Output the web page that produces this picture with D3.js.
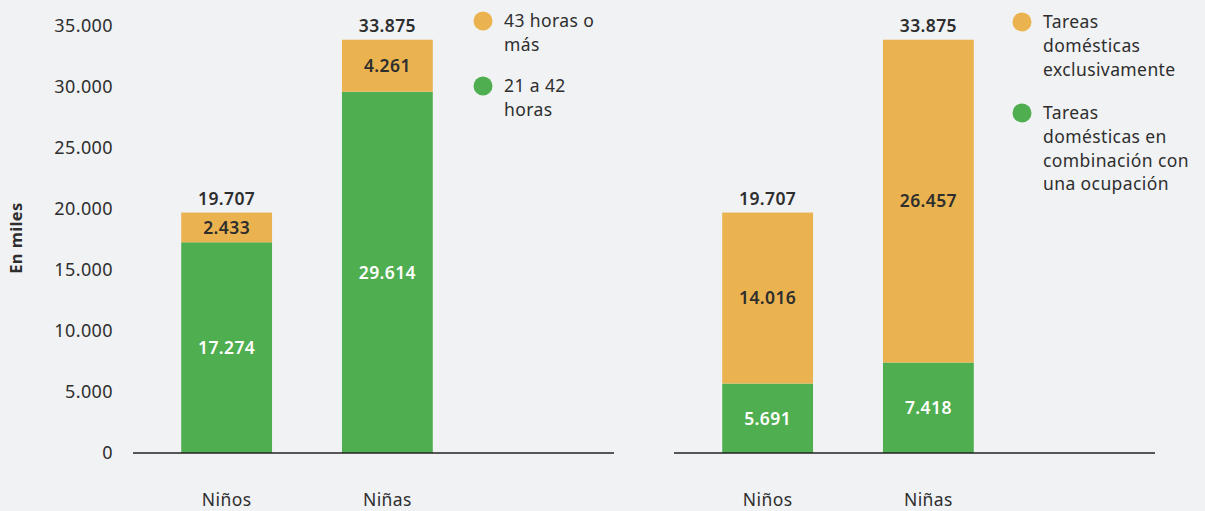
<!DOCTYPE html>
<html>
<head>
<meta charset="utf-8">
<script src="https://cdn.jsdelivr.net/npm/d3@7"></script>
<style>
  body { margin: 0; background: #f1f2f4; }
  svg { display: block; font-family: "Noto Sans", sans-serif; letter-spacing: 0.4px; }
</style>
</head>
<body>
<div id="chart"></div>
<script>
// data, in thousands
let categories = ["Niños", "Niñas"];

let hoursLabels = [["21 a 42", "horas"], ["43 horas o", "más"]];
let hours21to42 = [17274, 29614];
let hours43plus = [2433, 4261];

let choresLabels = [["Tareas", "domésticas en", "combinación con", "una ocupación"], ["Tareas", "domésticas", "exclusivamente"]];
let choresCombined = [5691, 7418];
let choresOnly = [14016, 26457];

let totals = [19707, 33875];
let yTicks = [0, 5000, 10000, 15000, 20000, 25000, 30000, 35000];

let width = 1205,
    height = 511;

let green = "#4fae4f",
    orange = "#ebb350",
    textDark = "#2e2e2e";

let fmt = function(v) { return d3.format(",")(v).replace(/,/g, "."); };

let svg = d3.select("#chart")
    .append("svg")
    .attr("width", width)
    .attr("height", height);

svg.append("rect").attr("width", width).attr("height", height).attr("fill", "#f1f2f4");

let y = d3.scaleLinear()
    .domain([0, 35000])
    .range([453, 26]);

// y axis only on the left panel
let yAxis = svg.append("g")
    .attr("transform", "translate(113,0)")
    .call(d3.axisLeft(y).tickValues(yTicks).tickSize(0).tickPadding(0).tickFormat(fmt));
yAxis.select(".domain").remove();
yAxis.selectAll("text")
    .attr("font-family", "Noto Sans, sans-serif")
    .attr("font-size", 18)
    .attr("fill", textDark);

svg.append("text")
    .attr("transform", "translate(22,238) rotate(-90)")
    .attr("text-anchor", "middle")
    .attr("font-size", 16.5)
    .attr("font-weight", 700)
    .attr("fill", textDark)
    .text("En miles");

function drawPanel(offset, lower, upper, legendLabels, legendX, legendYs) {
    let g = svg.append("g").attr("transform", `translate(${offset},0)`);

    let x = d3.scaleBand()
        .domain(categories)
        .range([133, 481])
        .paddingInner(0.435)
        .paddingOuter(0.3);

    let rows = categories.map(function(c, i) {
        return { cat: c, lower: lower[i], upper: upper[i], total: totals[i] };
    });

    let stack = d3.stack().keys(["lower", "upper"])(rows);
    let colors = [green, orange];

    stack.forEach(function(layer, li) {
        g.append("g").selectAll("rect")
            .data(layer)
            .enter()
            .append("rect")
            .attr("x", function(d) { return x(d.data.cat); })
            .attr("y", function(d) { return y(d[1]); })
            .attr("width", x.bandwidth())
            .attr("height", function(d) { return y(d[0]) - y(d[1]); })
            .attr("fill", colors[li]);

        g.append("g").selectAll("text")
            .data(layer)
            .enter()
            .append("text")
            .attr("x", function(d) { return x(d.data.cat) + x.bandwidth() / 2; })
            .attr("y", function(d) { return (y(d[0]) + y(d[1])) / 2; })
            .attr("dy", "0.36em")
            .attr("text-anchor", "middle")
            .attr("font-size", 17.5)
            .attr("font-weight", 600)
            .attr("fill", li == 0 ? "#ffffff" : textDark)
            .text(function(d) { return fmt(d[1] - d[0]); });
    });

    // totals above bars
    g.append("g").selectAll("text")
        .data(rows)
        .enter()
        .append("text")
        .attr("x", function(d) { return x(d.cat) + x.bandwidth() / 2; })
        .attr("y", function(d) { return y(d.total) - 14; })
        .attr("dy", "0.36em")
        .attr("text-anchor", "middle")
        .attr("font-size", 17.5)
        .attr("font-weight", 600)
        .attr("fill", textDark)
        .text(function(d) { return fmt(d.total); });

    // baseline
    g.append("line")
        .attr("x1", 133).attr("x2", 614)
        .attr("y1", y(0)).attr("y2", y(0))
        .attr("stroke", "#222")
        .attr("stroke-width", 1.3);

    // category labels
    g.append("g").selectAll("text")
        .data(categories)
        .enter()
        .append("text")
        .attr("x", function(d) { return x(d) + x.bandwidth() / 2; })
        .attr("y", 500)
        .attr("dy", "0.36em")
        .attr("text-anchor", "middle")
        .attr("font-size", 17.5)
        .attr("fill", textDark)
        .text(function(d) { return d; });

    // legend, orange first
    let items = [
        { color: orange, lines: legendLabels[1], y: legendYs[0] },
        { color: green, lines: legendLabels[0], y: legendYs[1] }
    ];
    items.forEach(function(it) {
        g.append("circle")
            .attr("cx", legendX - offset)
            .attr("cy", it.y)
            .attr("r", 9.5)
            .attr("fill", it.color);
        let t = g.append("text")
            .attr("x", legendX - offset + 21)
            .attr("y", it.y)
            .attr("font-size", 17.5)
            .attr("fill", textDark);
        it.lines.forEach(function(line, k) {
            t.append("tspan")
                .attr("x", legendX - offset + 21)
                .attr("y", it.y + k * 23.7)
                .attr("dy", "0.36em")
                .text(line);
        });
    });
}

drawPanel(0, hours21to42, hours43plus, hoursLabels, 483, [21, 86]);
drawPanel(541, choresCombined, choresOnly, choresLabels, 1022, [22, 113]);
</script>
</body>
</html>
